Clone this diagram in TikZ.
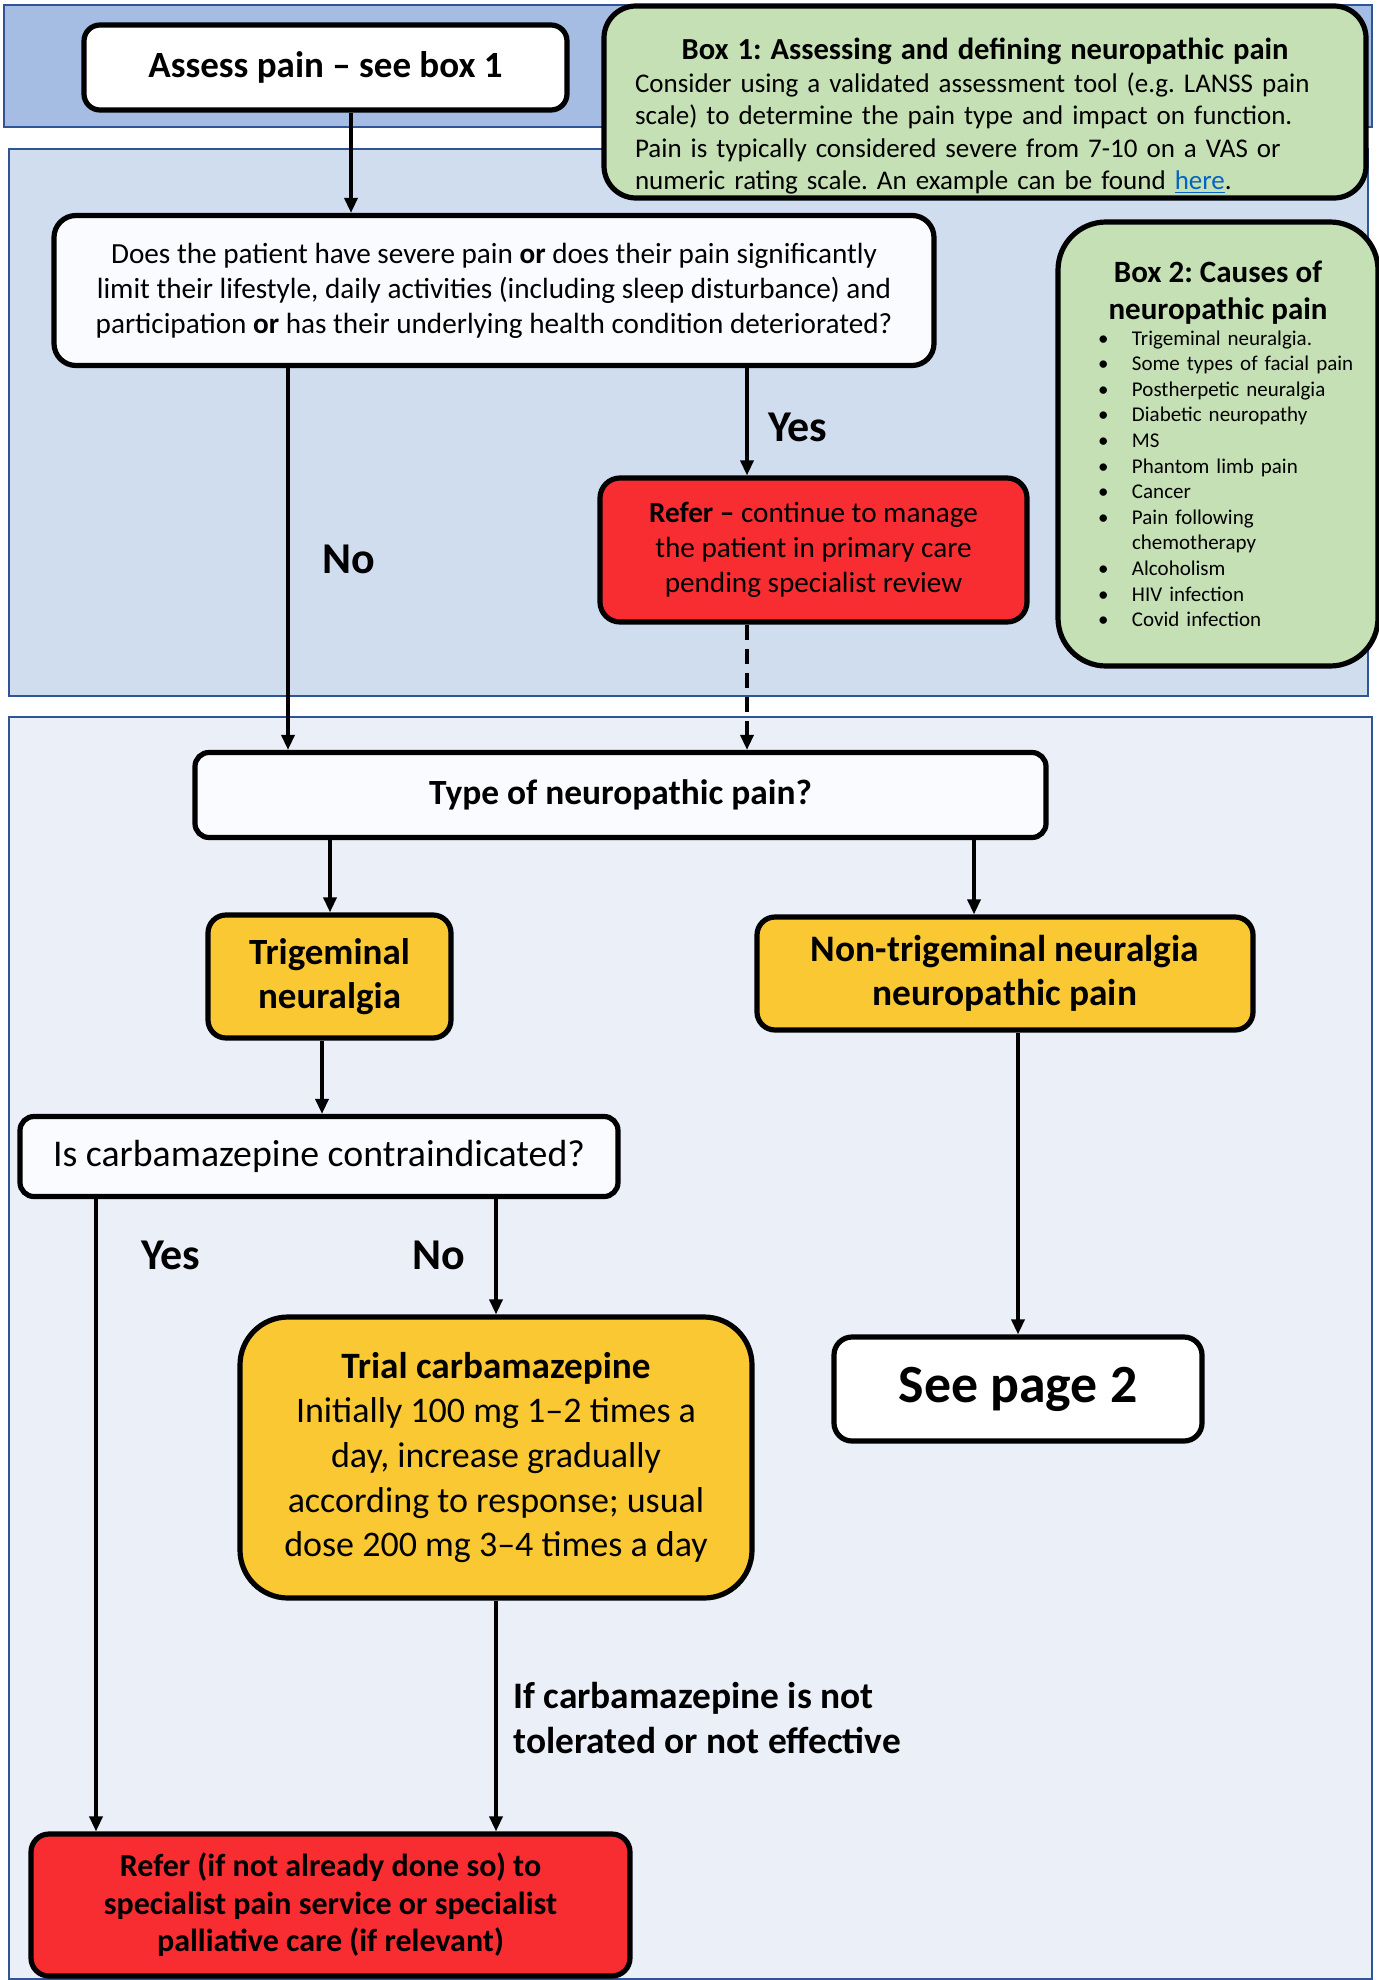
\documentclass[tikz,border=0pt]{standalone}
\usepackage{fontspec}
\setmainfont{Carlito}
\usetikzlibrary{arrows.meta}
\frenchspacing

\definecolor{bandtop}{RGB}{165,189,227}
\definecolor{bandmid}{RGB}{208,221,239}
\definecolor{bandlow}{RGB}{234,239,248}
\definecolor{bandline}{RGB}{47,85,151}
\definecolor{boxgreen}{RGB}{197,224,180}
\definecolor{boxred}{RGB}{248,45,50}
\definecolor{boxyellow}{RGB}{250,200,50}
\definecolor{boxwhite}{RGB}{250,251,254}
\definecolor{linkblue}{RGB}{5,99,193}

\newcommand{\causeitem}[1]{\hspace*{15pt}\makebox[17pt][l]{\textbullet}#1}

\begin{document}
\begin{tikzpicture}[x=0.5pt, y=-0.5pt,
    band/.style={draw=bandline, line width=1pt},
    card/.style={draw, line width=2.6pt, rounded corners=#1, align=center, inner sep=0pt},
    card/.default=7pt,
    arr/.style={line width=1.7pt, -{Triangle[length=7.5pt,width=6.5pt]}},
    lbl/.style={font=\bfseries\fontsize{22}{26}\selectfont, anchor=west, inner sep=0pt}]

    \useasboundingbox (0,0) rectangle (1379,1980);

    % The three bands
    \draw[band, fill=bandtop] (4,5) rectangle (1372,127);
    \draw[band, fill=bandmid] (9,149) rectangle (1368,696);
    \draw[band, fill=bandlow] (9,717) rectangle (1372,1979);

    % Columns for the connectors
    \coordinate (xa) at (351,0);
    \coordinate (xno) at (288,0);
    \coordinate (xyes) at (747,0);
    \coordinate (xtr) at (330,0);
    \coordinate (xnt) at (974,0);
    \coordinate (xco) at (322,0);
    \coordinate (xl) at (96,0);

    % Start and the two boxes
    \node[card=8pt, fill=white, minimum width=241.5pt, minimum height=42.5pt,
          font=\bfseries\fontsize{18.5}{22}\selectfont] (assess) at (325.5,67.5) {Assess pain -- see box 1};
    \node[card=16pt, fill=boxgreen, minimum width=381pt, minimum height=96pt, text width=350pt,
          align=left, font=\fontsize{13.5}{16.3}\selectfont] (box1) at (985,102)
        {{\centering\bfseries\fontsize{15.3}{17}\selectfont\rule{0pt}{25pt}Box 1: Assessing and defining neuropathic pain\par}
         Consider using a validated assessment tool (e.g. LANSS pain\\
         scale) to determine the pain type and impact on function.\\
         Pain is typically considered severe from 7-10 on a VAS or\\
         numeric rating scale. An example can be found \textcolor{linkblue}{\underline{here}}.};
    \node[card=24pt, fill=boxgreen, minimum width=160pt, minimum height=222pt, text width=150pt,
          align=left, font=\fontsize{10.5}{12.8}\selectfont] (box2) at (1218,444)
        {{\centering\bfseries\fontsize{15.5}{18.5}\selectfont Box 2: Causes of\\neuropathic pain\par}
         \causeitem{Trigeminal neuralgia.}\\
         \causeitem{Some types of facial pain}\\
         \causeitem{Postherpetic neuralgia}\\
         \causeitem{Diabetic neuropathy}\\
         \causeitem{MS}\\
         \causeitem{Phantom limb pain}\\
         \causeitem{Cancer}\\
         \causeitem{Pain following}\\
         \hspace*{32pt}chemotherapy\\
         \causeitem{Alcoholism}\\
         \causeitem{HIV infection}\\
         \causeitem{Covid infection}};

    % First question
    \node[card=11pt, fill=boxwhite, minimum width=440pt, minimum height=75pt,
          font=\fontsize{14.6}{17.5}\selectfont] (question) at (494,290.5)
        {Does the patient have severe pain \textbf{or} does their pain significantly\\
         limit their lifestyle, daily activities (including sleep disturbance) and\\
         participation \textbf{or} has their underlying health condition deteriorated?};
    \node[card=10pt, fill=boxred, minimum width=213.5pt, minimum height=72pt,
          font=\fontsize{14.6}{17.5}\selectfont] (refer1) at (813.5,550)
        {\textbf{Refer --} continue to manage\\the patient in primary care\\pending specialist review};
    \node[lbl] (yes1) at (768,427) {Yes};
    \node[lbl] (no1) at (322,559) {No};

    % Type of pain
    \node[card=7pt, fill=boxwhite, minimum width=425.5pt, minimum height=42.5pt,
          font=\bfseries\fontsize{17.7}{21}\selectfont] (type) at (620.5,795) {Type of neuropathic pain?};
    \node[card=9pt, fill=boxyellow, minimum width=121.5pt, minimum height=61.5pt,
          font=\bfseries\fontsize{18.5}{22}\selectfont] (trig) at (329.5,976.5) {Trigeminal\\neuralgia};
    \node[card=9pt, fill=boxyellow, minimum width=248pt, minimum height=56.5pt,
          font=\bfseries\fontsize{18.7}{22}\selectfont] (nontrig) at (1005,973.5) {Non-trigeminal neuralgia\\neuropathic pain};

    % Trigeminal branch
    \node[card=7pt, fill=boxwhite, minimum width=299pt, minimum height=40pt,
          font=\fontsize{18.9}{22}\selectfont] (contra) at (319,1156.5) {Is carbamazepine contraindicated?};
    \node[lbl] (yes2) at (141,1255) {Yes};
    \node[lbl] (no2) at (412,1255) {No};
    \node[card=24pt, fill=boxyellow, minimum width=256pt, minimum height=140.5pt,
          font=\fontsize{18}{22.3}\selectfont] (trial) at (496,1457.5)
        {{\bfseries\fontsize{18.6}{22.3}\selectfont Trial carbamazepine}\\Initially 100 mg 1--2 times a\\day, increase gradually\\
         according to response; usual\\dose 200 mg 3--4 times a day};
    \node[card=9pt, fill=white, minimum width=184pt, minimum height=52pt,
          font=\bfseries\fontsize{26.9}{30}\selectfont] (page2) at (1018,1389) {See page 2};
    \node[lbl, align=left, font=\bfseries\fontsize{18.7}{22.3}\selectfont] (cond) at (513,1718)
        {If carbamazepine is not\\tolerated or not effective};
    \node[card=9pt, fill=boxred, minimum width=299.5pt, minimum height=71pt,
          font=\bfseries\fontsize{16}{18.8}\selectfont] (refer2) at (330.5,1905)
        {Refer (if not already done so) to\\specialist pain service or specialist\\palliative care (if relevant)};

    % Connectors
    \draw[arr] (assess.south -| xa) -- (question.north -| xa);
    \draw[arr] (question.south -| xyes) -- (refer1.north -| xyes);
    \draw[arr] (question.south -| xno) -- (type.north -| xno);
    \draw[arr, dash pattern=on 7.5pt off 4.5pt] (refer1.south -| xyes) -- (type.north -| xyes);
    \draw[arr] (type.south -| xtr) -- (trig.north -| xtr);
    \draw[arr] (type.south -| xnt) -- (nontrig.north -| xnt);
    \draw[arr] (trig.south -| xco) -- (contra.north -| xco);
    \draw[arr] (nontrig.south -| page2.north) -- (page2.north);
    \draw[arr] (contra.south -| trial.north) -- (trial.north);
    \draw[arr] (contra.south -| xl) -- (refer2.north -| xl);
    \draw[arr] (trial.south) -- (refer2.north -| trial.south);
\end{tikzpicture}
\end{document}
